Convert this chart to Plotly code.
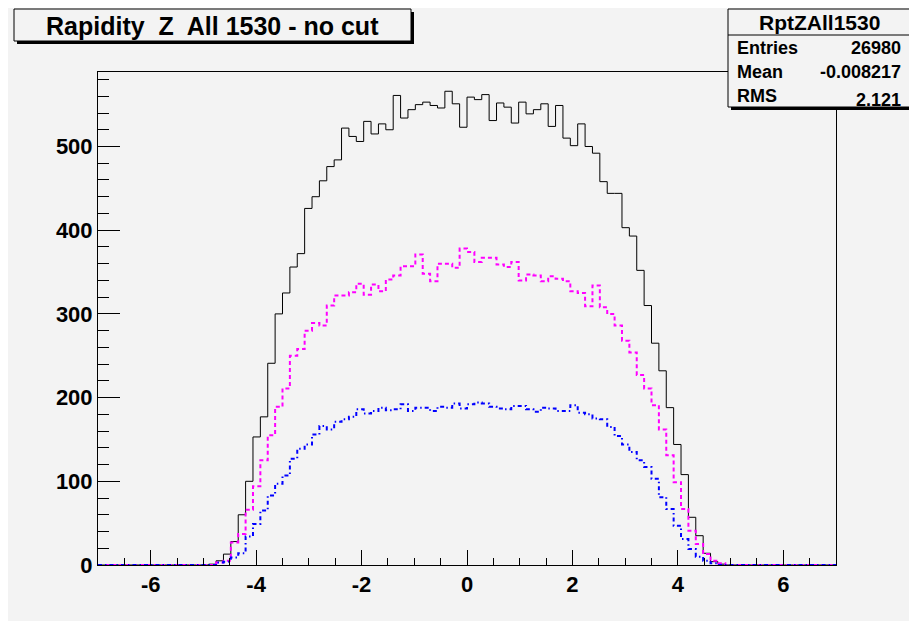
import numpy as np
import plotly.graph_objects as go

# ---- data (100 bins from -7 to 7) ----
x_min, x_max, n_bins = -7.0, 7.0, 100

black_counts = [0]*15 + [
    1, 5, 13, 28, 60, 100, 153, 177, 241, 300,
    325, 356, 372, 426, 440, 459, 476, 484, 522, 512,
    506, 530, 515, 527, 520, 561, 534, 544, 550, 553,
    549, 546, 566, 551, 523, 559, 556, 562, 531, 552,
    547, 528, 553, 539, 544, 551, 524, 549, 510, 501,
    527, 500, 492, 458, 444, 444, 403, 393, 352, 310,
    265, 232, 188, 144, 108, 57, 35, 14, 4, 1] + [0]*15

magenta_counts = [0]*15 + [
    0, 3, 5, 27, 37, 66, 94, 125, 155, 189,
    211, 250, 258, 280, 289, 286, 310, 322, 322, 326,
    336, 323, 335, 327, 341, 346, 357, 357, 371, 348,
    339, 360, 360, 355, 378, 374, 362, 367, 367, 359,
    356, 362, 340, 347, 346, 339, 345, 342, 339, 327,
    325, 309, 334, 308, 300, 286, 268, 254, 227, 211,
    191, 162, 131, 99, 67, 41, 25, 13, 5, 2] + [0]*15

blue_counts = [0]*15 + [
    0, 3, 4, 9, 14, 34, 49, 65, 83, 97,
    107, 127, 139, 144, 156, 166, 162, 171, 174, 177,
    186, 181, 184, 188, 185, 186, 192, 184, 188, 188,
    184, 189, 188, 193, 187, 192, 194, 193, 189, 187,
    186, 190, 190, 186, 183, 188, 187, 184, 184, 191,
    182, 180, 175, 174, 165, 154, 144, 135, 125, 117,
    103, 81, 67, 47, 31, 19, 10, 5, 2, 0] + [0]*15

x_tickvals = [-6, -4, -2, 0, 2, 4, 6]
x_ticktext = ["-6", "-4", "-2", "0", "2", "4", "6"]
y_tickvals = [0, 100, 200, 300, 400, 500]
y_ticktext = ["0", "100", "200", "300", "400", "500"]

title_text = "Rapidity  Z  All 1530 - no cut"
stats_name = "RptZAll1530"
stats_labels = ["Entries", "Mean", "RMS"]
stats_values = ["26980", "-0.008217", "2.121"]

# ---- geometry (page pixel targets; the figure div sits at the 8px body margin) ----
OFF = 8
W_PX, H_PX = 917 - OFF, 621 - OFF
L_pg, R_pg, T_pg, B_pg = 98, 836, 72, 565
L, R, T, B = L_pg - OFF, R_pg - OFF, T_pg - OFF, B_pg - OFF
PW, PH = R - L, B - T
def px(x):  # page x -> paper
    return (x - OFF - L) / PW
def py(y):  # page y -> paper
    return (B - (y - OFF)) / PH

edges = np.linspace(x_min, x_max, n_bins + 1)

def step_xy(counts):
    return list(edges), list(counts) + [counts[-1]]

BG = "#f3f3f3"
FONT = "Liberation Sans, Arial, sans-serif"

fig = go.Figure()
for counts, color, width, dash in [
    (black_counts, "black", 1, "solid"),
    (magenta_counts, "#ff00ff", 2, "4px,3px"),
    (blue_counts, "#0000ff", 2, "4px,3px,1.5px,3px"),
]:
    xs, ys = step_xy(counts)
    fig.add_trace(go.Scatter(x=xs, y=ys, mode="lines",
                             line=dict(shape="hv", color=color, width=width, dash=dash),
                             hoverinfo="skip", showlegend=False))

shapes = []
def box(x0, y0, x1, y1, sh=3):
    shapes.append(dict(type="rect", xref="paper", yref="paper",
                       x0=px(x0 + sh), x1=px(x1 + sh), y0=py(y0 + sh), y1=py(y1 + sh),
                       fillcolor="black", line=dict(width=0), layer="above"))
    shapes.append(dict(type="rect", xref="paper", yref="paper",
                       x0=px(x0), x1=px(x1), y0=py(y0), y1=py(y1),
                       fillcolor=BG, line=dict(color="black", width=1), layer="above"))

box(14, 9, 411, 41, sh=3)
box(728, 9, 911, 107, sh=3)
shapes.append(dict(type="line", xref="paper", yref="paper", x0=px(728), x1=px(911), y0=py(35), y1=py(35),
                   line=dict(color="black", width=1), layer="above"))

annotations = []
annotations.append(dict(xref="paper", yref="paper", x=px(212), y=py(26), text=title_text, showarrow=False,
                        xanchor="center", yanchor="middle",
                        font=dict(family=FONT, size=25, color="black", weight="bold")))
annotations.append(dict(xref="paper", yref="paper", x=px(819.5), y=py(22.5), text=stats_name, showarrow=False,
                        xanchor="center", yanchor="middle",
                        font=dict(family=FONT, size=21, color="black", weight="bold")))
row_y = [48, 72, 96]
val_y = [48, 72, 100]
for lab, val, yl, yv in zip(stats_labels, stats_values, row_y, val_y):
    annotations.append(dict(xref="paper", yref="paper", x=px(735), y=py(yl), text=lab, showarrow=False,
                            xanchor="left", yanchor="middle",
                            font=dict(family=FONT, size=18, color="black", weight="bold")))
    annotations.append(dict(xref="paper", yref="paper", x=px(903), y=py(yv), text=val, showarrow=False,
                            xanchor="right", yanchor="middle",
                            font=dict(family=FONT, size=18, color="black", weight="bold")))

fig.update_layout(
    width=W_PX, height=H_PX,
    margin=dict(l=L, r=W_PX - R, t=T, b=H_PX - B, pad=0),
    paper_bgcolor=BG, plot_bgcolor=BG,
    showlegend=False,
    shapes=shapes, annotations=annotations,
    xaxis=dict(range=[x_min, x_max], tickmode="array", tickvals=x_tickvals, ticktext=x_ticktext,
               ticks="inside", ticklen=15, tickwidth=1,
               tickcolor="black", showgrid=False, zeroline=False,
               showline=True, linecolor="black", linewidth=1, mirror=True,
               tickfont=dict(family=FONT, size=22, color="black", weight="bold"),
               minor=dict(dtick=0.5, tick0=0, ticks="inside", ticklen=7, tickcolor="black", tickwidth=1, showgrid=False)),
    yaxis=dict(range=[0, 589], tickmode="array", tickvals=y_tickvals, ticktext=y_ticktext,
               ticks="inside", ticklen=22, tickwidth=1,
               tickcolor="black", showgrid=False, zeroline=False,
               showline=True, linecolor="black", linewidth=1, mirror=True,
               tickfont=dict(family=FONT, size=22, color="black", weight="bold"),
               minor=dict(dtick=20, tick0=0, ticks="inside", ticklen=11, tickcolor="black", tickwidth=1, showgrid=False)),
)

fig.write_html("out.html")
